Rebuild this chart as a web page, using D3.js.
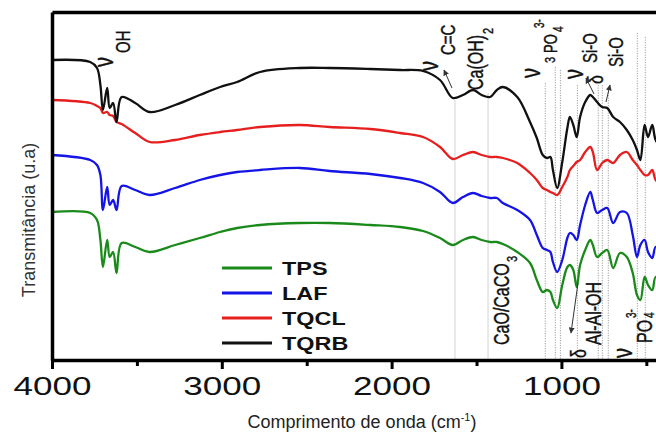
<!DOCTYPE html>
<html>
<head>
<meta charset="utf-8">
<script src="https://cdn.jsdelivr.net/npm/d3@7/dist/d3.min.js"></script>
<style>
  html, body { margin: 0; padding: 0; background: #fff; }
  svg { display: block; font-family: "Liberation Sans", Arial, sans-serif; }
</style>
</head>
<body>
<div id="chart"></div>
<script>
// ---- data ----
const wavenumber = [4000,3775,3735,3715,3700,3675,3660,3640,3620,3590,3510,3425,3275,3130,3010,2910,2775,2540,2365,2125,1950,1815,1715,1640,1580,1520,1470,1420,1380,1345,1260,1185,1145,1110,1085,1065,1050,1025,995,965,950,930,910,890,860,830,815,790,760,730,695,655,615,580,555,535,510,490,465,445,400];
const TQRB = [300,298,292,275,250,272,252,257,238,263,257,248,255,265,273,278,288,292,292,291,290,289,280,262,265,270,265,263,270,273,263,238,222,205,202,203,190,172,198,232,243,235,223,243,258,265,263,258,253,252,243,238,230,220,210,200,235,223,235,220,210];
const TQCL = [260,257,254,252,247,248,245,244,238,236,227,218,220,225,228,230,233,235,233,231,227,223,213,201,205,208,205,203,203,202,197,187,180,172,170,168,167,165,173,183,190,194,198,200,208,213,208,190,197,200,197,205,208,200,195,190,185,185,190,180,175];
const LAF  = [205,200,195,185,150,173,155,160,150,174,170,165,172,180,185,188,190,192,189,186,182,177,168,157,163,167,164,162,162,157,150,140,125,112,110,108,98,88,100,122,127,125,120,135,155,168,160,147,150,152,137,148,147,125,103,115,120,108,102,113,105];
const TPS  = [148,147,140,120,93,120,103,108,87,117,113,108,115,122,128,132,135,137,137,135,133,129,122,115,120,123,120,118,118,116,108,97,80,68,70,68,60,52,75,93,95,90,73,95,110,120,115,103,107,110,92,107,103,87,65,60,83,75,70,83,75];
const seriesNames = ["TPS","LAF","TQCL","TQRB"];
const seriesColors = ["#1a8a1a","#1414e6","#e61e1e","#111111"];
const majorTicks = [4000,3000,2000,1000];
const minorTicks = [3500,2500,1500,500];
const dottedLines = [1095,1036,1006,906,783,759,724,553,506];
const dottedTops  = [277,293,290,275,275,275,270,327,323];
const solidLines  = [1627,1432];
const solidTops   = [260,267];

// ---- layout ----
const W = 656, H = 432;
const svg = d3.select("#chart").append("svg").attr("width", W).attr("height", H);
const x = d3.scaleLinear().domain([4000, 400]).range([52, 663.3]);
const y = d3.scaleLinear().domain([0, 348]).range([360, 12]);
const FONT = '"Liberation Sans", Arial, sans-serif';

// reference lines
svg.append("g").selectAll("line").data(solidLines).join("line")
  .attr("x1", d => x(d)).attr("x2", d => x(d))
  .attr("y1", (d,i) => y(solidTops[i])).attr("y2", y(0))
  .attr("stroke", "#e2e2e2").attr("stroke-width", 1.5);
svg.append("g").selectAll("line").data(dottedLines).join("line")
  .attr("x1", d => x(d)).attr("x2", d => x(d))
  .attr("y1", (d,i) => y(dottedTops[i])).attr("y2", y(0))
  .attr("stroke", "#a0a0a0").attr("stroke-width", 1).attr("stroke-dasharray", "1.2,1.3");

// curves
const allSeries = [TPS, LAF, TQCL, TQRB];
const line = d3.line().x(d => x(d[0])).y(d => y(d[1])).curve(d3.curveCatmullRom.alpha(0.5));
allSeries.forEach((s, i) => {
  svg.append("path")
    .datum(wavenumber.map((w, j) => [w, s[j]]))
    .attr("fill", "none").attr("stroke", seriesColors[i])
    .attr("stroke-width", 2.3).attr("stroke-linejoin", "round")
    .attr("d", line);
});

// axes
const xAxis = d3.axisBottom(x).tickValues(majorTicks).tickSize(9).tickSizeOuter(0)
  .tickFormat(d3.format("d"));
const gx = svg.append("g").attr("transform", `translate(0,${y(0)})`).call(xAxis);
gx.select(".domain").attr("stroke", "#000").attr("stroke-width", 3.5);
gx.selectAll(".tick line").attr("stroke", "#000").attr("stroke-width", 3);
gx.selectAll(".tick text")
  .attr("y", 17).attr("dy", "0.71em")
  .attr("font-size", 25).attr("font-family", FONT).attr("fill", "#111")
  .attr("textLength", 78).attr("lengthAdjust", "spacingAndGlyphs");
const xMinor = d3.axisBottom(x).tickValues(minorTicks).tickSize(6).tickSizeOuter(0).tickFormat("");
const gm = svg.append("g").attr("transform", `translate(0,${y(0)})`).call(xMinor);
gm.select(".domain").remove();
gm.selectAll(".tick line").attr("stroke", "#000").attr("stroke-width", 3);

const yAxis = d3.axisLeft(y).tickValues([]).tickSizeOuter(0);
const gy = svg.append("g").attr("transform", `translate(${x(4000)},0)`).call(yAxis);
gy.select(".domain").attr("stroke", "#000").attr("stroke-width", 3.5);
const topAxis = d3.axisTop(x).tickValues([]).tickSizeOuter(0);
const gt = svg.append("g").attr("transform", `translate(0,${y(348)})`).call(topAxis);
gt.select(".domain").attr("stroke", "#000").attr("stroke-width", 3.5);

// axis titles
const xt = svg.append("text").attr("x", 362).attr("y", 428).attr("text-anchor", "middle")
  .attr("font-size", 18).attr("fill", "#222");
xt.append("tspan").text("Comprimento de onda (cm");
xt.append("tspan").attr("font-size", 11).attr("dy", -7).text("-1");
xt.append("tspan").attr("dy", 7).text(")");

svg.append("text").attr("transform", "translate(35,220) rotate(-90)")
  .attr("text-anchor", "middle").attr("font-size", 18).attr("fill", "#333")
  .text("Transmitância (u.a)");

// annotations (rotated, horizontally stretched like the source image)
const ann = [
  ["ν",113,67,20],["OH",130,53,15],
  ["ν",438,71,20],["C=C",455,55,15],
  ["Ca(OH)",483,90,16],["2",493,34,11],
  ["ν",540,78,20],["3",555,63,11],["PO",557,53,13],["4",563,32,10],["3-",544,28,10],
  ["ν",583,79,20],["Si-O",597,63,15],
  ["δ",603,84,16],["Si-O",623,67,15],
  ["CaO/CaCO",509,345,16],["3",517,262,11],
  ["δ",586,358,16],["Al-Al-OH",601,345,16],
  ["ν",632,358,20],["PO",652,343,16],["3-",636,318,10],["4",654,318,10]
];
svg.append("g").selectAll("text").data(ann).join("text")
  .attr("transform", d => `translate(${d[1]},${d[2]}) scale(1.4,1) rotate(-90)`)
  .attr("font-size", d => d[3]).attr("fill", "#111")
  .attr("stroke", "#111").attr("stroke-width", 0.3)
  .text(d => d[0]);

// arrows
svg.append("defs").append("marker").attr("id", "ah")
  .attr("viewBox", "0 0 10 10").attr("refX", 9).attr("refY", 5)
  .attr("markerWidth", 6).attr("markerHeight", 6).attr("orient", "auto")
  .append("path").attr("d", "M0,0 L10,5 L0,10 z").attr("fill", "#333");
const arrows = [[452,88,444,70],[594,94,586,78],[606,102,610,85],[578,283,571,333]];
svg.append("g").selectAll("line").data(arrows).join("line")
  .attr("x1", d => d[0]).attr("y1", d => d[1]).attr("x2", d => d[2]).attr("y2", d => d[3])
  .attr("stroke", "#333").attr("stroke-width", 1).attr("marker-end", "url(#ah)");

// legend
const leg = svg.append("g");
const legendY = [268, 293, 318, 343];
seriesNames.forEach((n, i) => {
  leg.append("line").attr("x1", 222).attr("x2", 272).attr("y1", legendY[i]).attr("y2", legendY[i])
    .attr("stroke", seriesColors[i]).attr("stroke-width", 3);
  const t = leg.append("text").attr("x", 282).attr("y", legendY[i] + 6.5)
    .attr("font-size", 18).attr("font-weight", "bold").attr("fill", "#111").text(n);
  const L = t.node().getComputedTextLength();
  t.attr("textLength", L * 1.3).attr("lengthAdjust", "spacingAndGlyphs");
});
</script>
</body>
</html>
